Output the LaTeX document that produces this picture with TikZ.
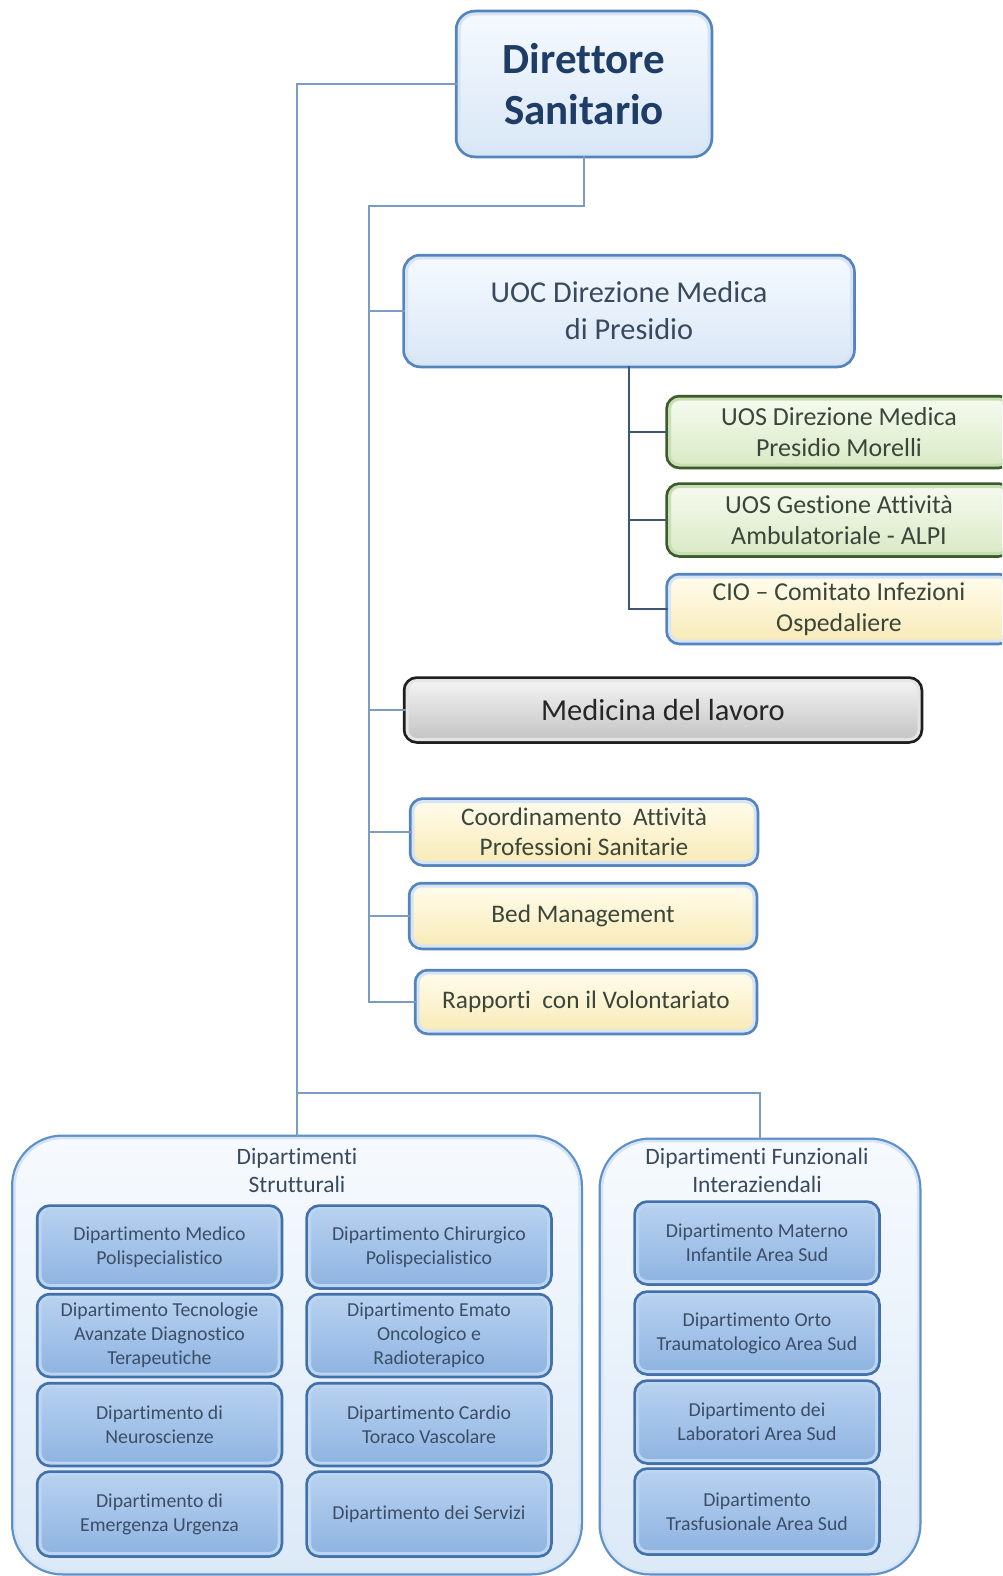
\documentclass[tikz,border=0pt]{standalone}
\usepackage{fontspec}
\setmainfont{Carlito}[Ligatures=NoCommon]
\usetikzlibrary{calc}

\definecolor{lineblue}{HTML}{7D9CC4}
\definecolor{linedark}{HTML}{3F5573}
\definecolor{titleblue}{HTML}{1E3D66}
\definecolor{textslate}{HTML}{3A4A5E}
\definecolor{textgreen}{HTML}{3B463A}
\definecolor{textdept}{HTML}{3C4E66}
% edge, highlight and fill colours of the bevelled boxes
\definecolor{skyedge}{HTML}{5583BC}
\definecolor{skylight}{HTML}{D6E5F6}
\definecolor{skytop}{HTML}{F5F9FE}
\definecolor{skybot}{HTML}{D9E7F6}
\definecolor{yeltop}{HTML}{FFFCEB}
\definecolor{yelbot}{HTML}{F8EAB8}
\definecolor{grnedge}{HTML}{3A5C2B}
\definecolor{grnlight}{HTML}{C9DDB2}
\definecolor{grntop}{HTML}{F5FAEE}
\definecolor{grnbot}{HTML}{DAEAC6}
\definecolor{gryedge}{HTML}{1E1E1E}
\definecolor{grylight}{HTML}{E4E4E4}
\definecolor{grytop}{HTML}{F3F3F3}
\definecolor{grybot}{HTML}{C4C4C4}
\definecolor{dptedge}{HTML}{4170AA}
\definecolor{dptlight}{HTML}{BCD5F0}
\definecolor{dpttop}{HTML}{B7D1F0}
\definecolor{dptbot}{HTML}{8FB4E1}
\definecolor{grpedge}{HTML}{6090C8}
\definecolor{grplight}{HTML}{D5E5F6}
\definecolor{grptop}{HTML}{F6FAFE}
\definecolor{grpbot}{HTML}{DCE9F7}

\begin{document}
\begin{tikzpicture}[x=1pt,y=-1pt,
  conn/.style={draw=lineblue, line width=1.5pt},
  subconn/.style={draw=linedark, line width=1.8pt},
  bevel/.style 2 args={preaction={draw=#1, line width=8.5pt}, draw=#2, line width=3pt},
  boxbase/.style={rectangle, align=center, inner sep=0pt},
  topbox/.style={boxbase, bevel={skyedge}{skylight}, rounded corners=16pt,
    top color=skytop, bottom color=skybot,
    text=titleblue, font=\fontsize{43}{51}\selectfont\bfseries},
  uocbox/.style={boxbase, bevel={skyedge}{skylight}, rounded corners=14pt,
    top color=skytop, bottom color=skybot,
    text=textslate, font=\fontsize{30.3}{37}\selectfont},
  greenbox/.style={boxbase, bevel={grnedge}{grnlight}, rounded corners=10pt,
    top color=grntop, bottom color=grnbot,
    text=textgreen, font=\fontsize{26}{31}\selectfont},
  yellowbox/.style={boxbase, bevel={skyedge}{skylight}, rounded corners=10pt,
    top color=yeltop, bottom color=yelbot,
    text=textgreen, font=\fontsize{25.3}{30}\selectfont},
  graybox/.style={boxbase, bevel={gryedge}{grylight}, rounded corners=10pt,
    top color=grytop, bottom color=grybot,
    text=black!85, font=\fontsize{30.5}{34}\selectfont},
  container/.style={rectangle, preaction={draw=grpedge, line width=7pt},
    draw=grplight, line width=2.5pt, rounded corners=48pt,
    top color=grptop, bottom color=grpbot},
  grouptitle/.style={align=center, inner sep=0pt, text=textslate,
    font=\fontsize{23.5}{28}\selectfont},
  deptbox/.style={boxbase, bevel={dptedge}{dptlight}, rounded corners=10pt,
    minimum width=239pt, minimum height=77pt,
    top color=dpttop, bottom color=dptbot,
    text=textdept, font=\fontsize{19.8}{24}\selectfont}
]
\useasboundingbox (0,0) rectangle (1002,1576);
\fill[white] (0,0) rectangle (1002,1576);
\clip (0,0) rectangle (1002,1576);

% group containers (drawn first so connectors sit on top edges)
\node[container, minimum width=565pt, minimum height=434pt] (cs) at (297,1355) {};
\node[container, minimum width=316pt, minimum height=431pt] (cf) at (760,1356.5) {};

% main hierarchy
\node[topbox, minimum width=250pt, minimum height=140pt] (dir) at (584,84) {Direttore\\Sanitario};
\node[uocbox, minimum width=445pt, minimum height=106pt] (uoc) at (629,311) {UOC Direzione Medica\\di Presidio};

\node[greenbox, minimum width=339pt, minimum height=66pt] (g1) at (839,432) {UOS Direzione Medica\\Presidio Morelli};
\node[greenbox, minimum width=339pt, minimum height=67pt] (g2) at (839,520) {UOS Gestione Attività\\Ambulatoriale - ALPI};
\node[yellowbox, minimum width=339pt, minimum height=64pt, font=\fontsize{25.8}{31}\selectfont] (cio) at (839,609) {CIO -- Comitato Infezioni\\Ospedaliere};

\node[graybox, minimum width=512pt, minimum height=59pt] (med) at (663,710) {Medicina del lavoro};

\node[yellowbox, minimum width=342pt, minimum height=61pt] (coo) at (584,832) {Coordinamento\ \ Attività\\Professioni Sanitarie};
\node[yellowbox, minimum width=342pt, minimum height=60pt] (bed) at (583,916) {Bed Management};
\node[yellowbox, minimum width=336pt, minimum height=58pt] (rap) at (586,1002) {Rapporti\ \ con il Volontariato};

% connectors
\coordinate (t2) at (369,206);
\coordinate (jn) at (297,1093);
\draw[conn] (dir.west) -| (cs.north);
\draw[conn] (jn) -| (cf.north);
\draw[conn] (dir.south) |- (t2) -- (t2 |- rap.west) -- (rap.west);
\draw[conn] (t2 |- uoc.west) -- (uoc.west);
\draw[conn] (t2 |- med.west) -- (med.west);
\draw[conn] (t2 |- coo.west) -- (coo.west);
\draw[conn] (t2 |- bed.west) -- (bed.west);
\draw[subconn] (uoc.south) -- (uoc.south |- cio.west) -- (cio.west);
\draw[subconn] (uoc.south |- g1.west) -- (g1.west);
\draw[subconn] (uoc.south |- g2.west) -- (g2.west);

% Dipartimenti Strutturali
\node[grouptitle] (cst) at (297,1170) {Dipartimenti\\Strutturali};
\node[deptbox] (s1) at (159.5,1247) {Dipartimento Medico\\Polispecialistico};
\node[deptbox] (s2) at (429,1247) {Dipartimento Chirurgico\\Polispecialistico};
\node[deptbox] (s3) at (159.5,1335.5) {Dipartimento Tecnologie\\Avanzate Diagnostico\\Terapeutiche};
\node[deptbox] (s4) at (429,1335.5) {Dipartimento Emato\\Oncologico e\\Radioterapico};
\node[deptbox] (s5) at (159.5,1424.5) {Dipartimento di\\Neuroscienze};
\node[deptbox] (s6) at (429,1424.5) {Dipartimento Cardio\\Toraco Vascolare};
\node[deptbox, minimum height=79pt] (s7) at (159.5,1514) {Dipartimento di\\Emergenza Urgenza};
\node[deptbox, minimum height=79pt] (s8) at (429,1514) {Dipartimento dei Servizi};

% Dipartimenti Funzionali Interaziendali
\node[grouptitle] (cft) at (757,1170) {Dipartimenti Funzionali\\Interaziendali};
\node[deptbox] (f1) at (757,1243) {Dipartimento Materno\\Infantile Area Sud};
\node[deptbox] (f2) at (757,1333) {Dipartimento Orto\\Traumatologico Area Sud};
\node[deptbox] (f3) at (757,1422) {Dipartimento dei\\Laboratori Area Sud};
\node[deptbox, minimum height=80pt] (f4) at (757,1511.5) {Dipartimento\\Trasfusionale Area Sud};
\end{tikzpicture}
\end{document}
